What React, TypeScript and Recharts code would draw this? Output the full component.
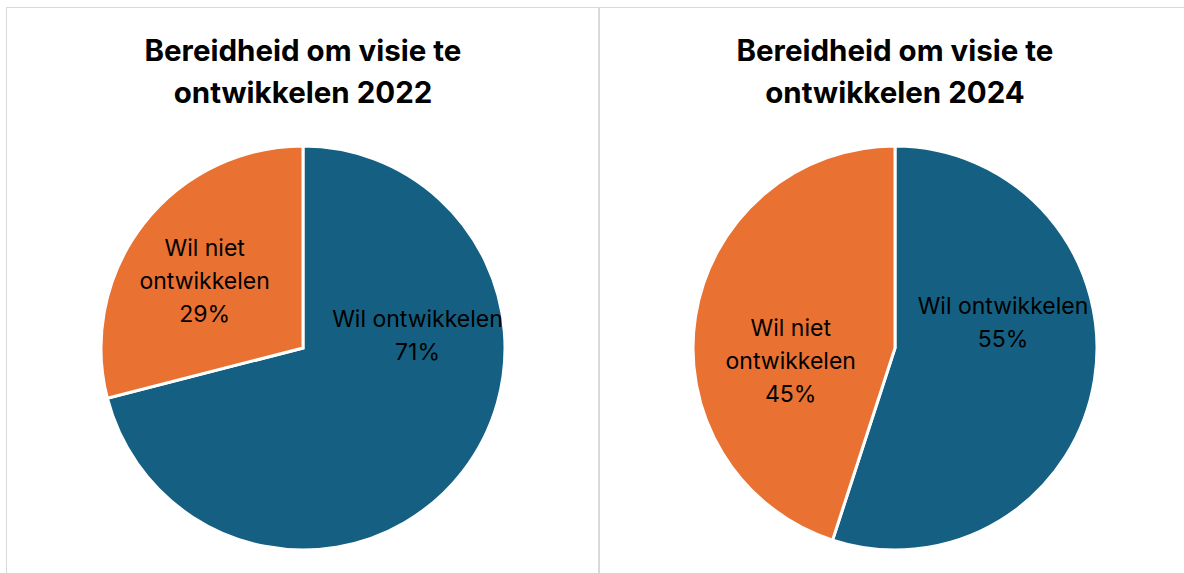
import React from "react";
import { PieChart, Pie, Cell } from "recharts";

const categories = ["Wil ontwikkelen", "Wil niet ontwikkelen"];
const values2022 = [71, 29];
const values2024 = [55, 45];
const titles = ["Bereidheid om visie te ontwikkelen 2022", "Bereidheid om visie te ontwikkelen 2024"];
const colors = ["#156082", "#E97132"];

// label placement per slice: [angle in degrees, fraction of radius]
const labelPos2022: [number, number][] = [
  [6, 0.57],
  [145.6, 0.59],
];
const labelPos2024: [number, number][] = [
  [13.5, 0.55],
  [187, 0.52],
];

const FONT = "Inter, 'Open Sans', sans-serif";
const RADIAN = Math.PI / 180;

function makeLabel(pos: [number, number][]) {
  return (props: any) => {
    const { cx, cy, outerRadius, index, name, value } = props;
    const [ang, frac] = pos[index];
    const r = outerRadius * frac;
    const x = cx + r * Math.cos(ang * RADIAN);
    const y = cy - r * Math.sin(ang * RADIAN);
    const lines =
      name === "Wil niet ontwikkelen"
        ? ["Wil niet", "ontwikkelen", `${value}%`]
        : ["Wil ontwikkelen", `${value}%`];
    const lh = 33;
    const y0 = y - ((lines.length - 1) * lh) / 2;
    return (
      <text
        x={x}
        y={y0}
        textAnchor="middle"
        dominantBaseline="central"
        fill="#000"
        fontSize={23}
        fontFamily={FONT}
      >
        {lines.map((l, i) => (
          <tspan key={i} x={x} y={y0 + i * lh}>
            {l}
          </tspan>
        ))}
      </text>
    );
  };
}

function Panel({
  left,
  width,
  title,
  values,
  pos,
  cx,
}: {
  left: number;
  width: number;
  title: string;
  values: number[];
  pos: [number, number][];
  cx: number;
}) {
  const data = categories.map((c, i) => ({ name: c, value: values[i] }));
  const words = title.split(" ");
  const line1 = words.slice(0, 4).join(" ");
  const line2 = words.slice(4).join(" ");
  return (
    <div style={{ position: "absolute", left, top: 7, width, height: 566 }}>
      <PieChart width={width} height={566} margin={{ top: 0, right: 0, bottom: 0, left: 0 }}>
        <Pie
          data={data}
          dataKey="value"
          nameKey="name"
          cx={cx}
          cy={341}
          outerRadius={202}
          startAngle={90}
          endAngle={-270}
          stroke="#fff"
          strokeWidth={3}
          labelLine={false}
          label={makeLabel(pos)}
          isAnimationActive={false}
        >
          {data.map((d, i) => (
            <Cell key={d.name} fill={colors[i]} />
          ))}
        </Pie>
      </PieChart>
      <div
        style={{
          position: "absolute",
          left: cx - 250,
          width: 500,
          top: 22,
          textAlign: "center",
          fontFamily: FONT,
          fontWeight: 700,
          fontSize: 29.5,
          lineHeight: "42px",
          color: "#000",
        }}
      >
        {line1}
        <br />
        {line2}
      </div>
    </div>
  );
}

export default function App() {
  return (
    <div
      style={{
        position: "absolute",
        left: 0,
        top: 0,
        width: 1184,
        height: 573,
        background: "#fff",
        overflow: "hidden",
      }}
    >
      <div style={{ position: "absolute", left: 6, top: 7, width: 1178, height: 1, background: "#d9d9d9" }} />
      <div style={{ position: "absolute", left: 6, top: 7, width: 1, height: 566, background: "#d9d9d9" }} />
      <div style={{ position: "absolute", left: 598, top: 7, width: 2, height: 566, background: "#d9d9d9" }} />
      <Panel left={6} width={592} title={titles[0]} values={values2022} pos={labelPos2022} cx={297} />
      <Panel left={600} width={584} title={titles[1]} values={values2024} pos={labelPos2024} cx={295} />
    </div>
  );
}
